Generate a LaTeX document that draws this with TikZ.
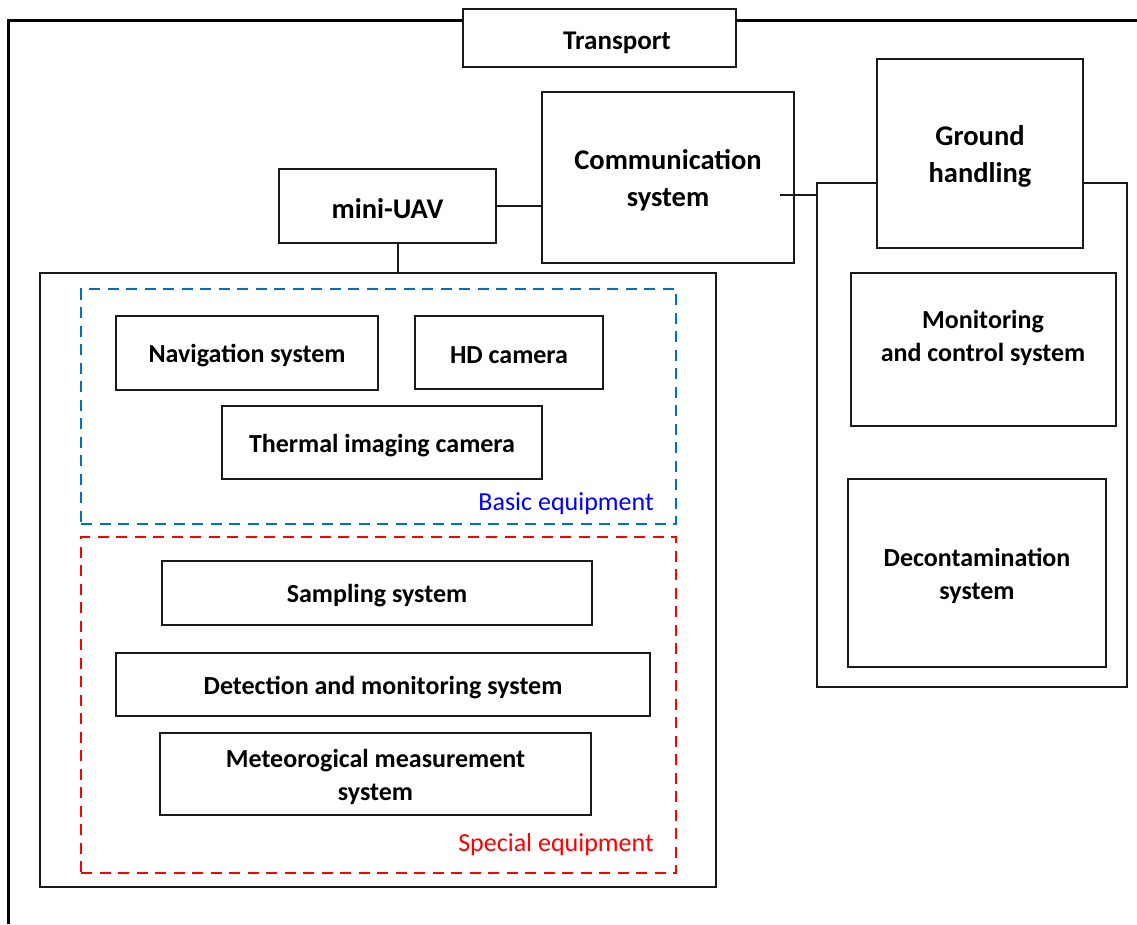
\documentclass[tikz,border=0pt]{standalone}
\usepackage{fontspec}
\setmainfont{Carlito}
\definecolor{dashblue}{HTML}{0070C0}
\definecolor{txtblue}{HTML}{0000FF}
\definecolor{pured}{HTML}{FF0000}
\tikzset{
  plainbox/.style={draw=black!90, line width=1.5pt, fill=white, inner sep=0pt},
  txt/.style={inner sep=0pt, align=center, yshift=-3pt, font=\bfseries\fontsize{26}{33}\selectfont},
  bigtxt/.style={txt, font=\bfseries\fontsize{28.5}{37}\selectfont},
  box/.style={plainbox, label={[txt]center:#1}},
  bigbox/.style={plainbox, label={[bigtxt]center:#1}},
  frameline/.style={draw=black, line width=3pt},
  conn/.style={draw=black!90, line width=1.5pt},
  dashbox/.style={line width=2.7pt, dash pattern=on 11pt off 7.5pt, inner sep=0pt},
  grouplabel/.style={inner sep=0pt, anchor=base east, font=\fontsize{26}{33}\selectfont}
}
\begin{document}
\begin{tikzpicture}[x=1pt,y=-1pt]
\useasboundingbox (0,0) rectangle (1137,924);
% outer frame
\coordinate (fbl) at (8,924);
\coordinate (ftl) at (8,20);
\coordinate (ftr) at (1137,20);
\draw[frameline] (463,20) -- (ftl) -- (fbl);
\draw[frameline] (736,20) -- (ftr);
\node[plainbox, minimum width=273pt, minimum height=58pt,
  label={[bigtxt, font=\bfseries\fontsize{27}{33}\selectfont, yshift=-2pt, xshift=17.5pt]center:Transport}] (transport) at (599.5,38) {};
% ground group
\node[plainbox, minimum width=310pt, minimum height=504pt] (grp) at (972,435) {};
\node[bigbox={Ground\\handling}, minimum width=206pt, minimum height=189pt] (ground) at (980,153.5) {};
\node[plainbox, minimum width=265pt, minimum height=153pt] (mon) at (983.5,349.5) {};
\node[txt, yshift=1.5pt] (montxt) at (983,336) {Monitoring\\and control system};
\node[box={Decontamination\\system}, minimum width=258pt, minimum height=188pt] (decon) at (977,573) {};
% communication
\node[bigbox={Communication\\system}, minimum width=252pt, minimum height=171pt] (comm) at (668,177.5) {};
\coordinate (cstart) at (780,195);
\draw[conn] (cstart) -- (cstart -| grp.west);
% mini-UAV
\node[bigbox={mini-UAV}, minimum width=217pt, minimum height=74pt] (uav) at (387.5,206) {};
\draw[conn] (uav.east) -- (uav.east -| comm.west);
% equipment box
\node[plainbox, minimum width=676pt, minimum height=614pt] (equip) at (378,580) {};
\draw[conn] (uav.south -| 398,0) -- (equip.north -| 398,0);
\node[dashbox, draw=dashblue, minimum width=595pt, minimum height=235pt] (basic) at (378.5,406.5) {};
\node[dashbox, draw=pured, minimum width=595pt, minimum height=336pt] (special) at (378.5,705) {};
\node[grouplabel, text=txtblue] (basiclbl) at (654,510) {Basic equipment};
\node[grouplabel, text=pured] (speciallbl) at (654,851) {Special equipment};
\node[box={Navigation system}, minimum width=262pt, minimum height=74pt] (nav) at (247,353) {};
\node[box={HD camera}, minimum width=188pt, minimum height=73pt] (hd) at (509,352.5) {};
\node[box={Thermal imaging camera}, minimum width=320pt, minimum height=73pt] (thermal) at (382,442.5) {};
\node[box={Sampling system}, minimum width=430pt, minimum height=64pt] (sampling) at (377,593) {};
\node[box={Detection and monitoring system}, minimum width=534pt, minimum height=63pt] (detect) at (383,684.5) {};
\node[box={Meteorogical measurement\\system}, minimum width=431pt, minimum height=82pt] (meteo) at (375.5,774) {};
\end{tikzpicture}
\end{document}
